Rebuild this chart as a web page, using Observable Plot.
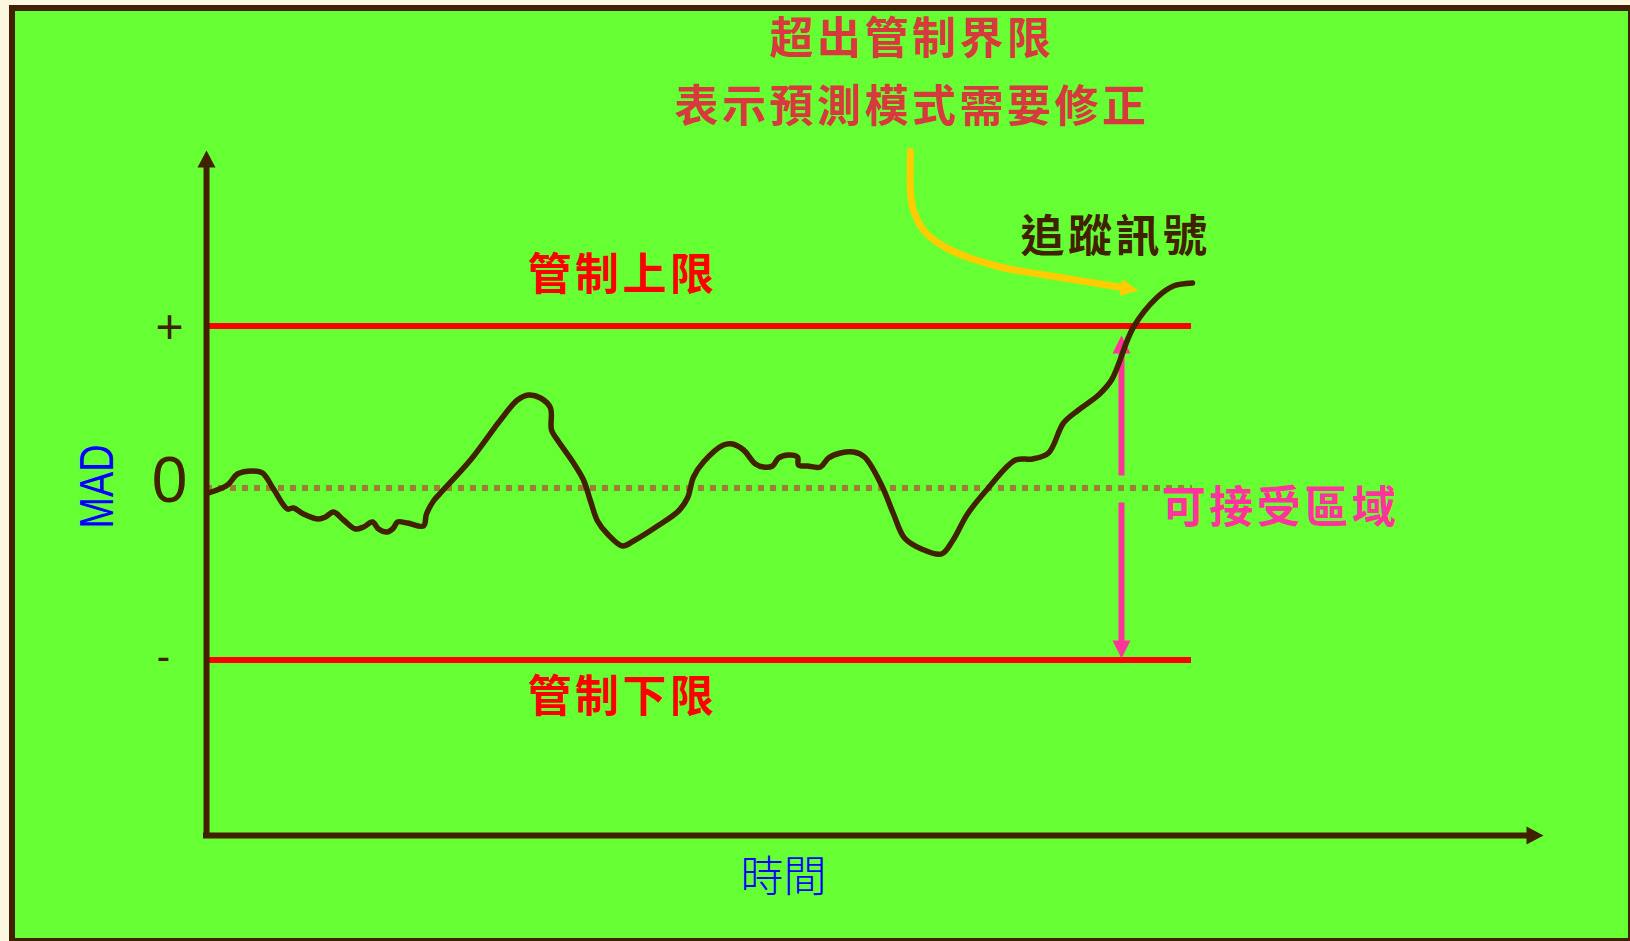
<!DOCTYPE html>
<html>
<head>
<meta charset="utf-8">
<script src="https://cdn.jsdelivr.net/npm/d3@7"></script>
<script src="https://cdn.jsdelivr.net/npm/@observablehq/plot@0.6"></script>
<style>
  html, body { margin: 0; padding: 0; width: 1630px; height: 941px; overflow: hidden; background: #fbf7e1; }
  #frame {
    position: absolute; left: 9px; top: 5px; width: 1625px; height: 939px;
    box-sizing: border-box; border: 6px solid #422100; background: #66ff33;
  }
  #chart { position: absolute; left: 0; top: 0; }
  #chart svg { display: block; }
</style>
</head>
<body>
<div id="frame"></div>
<div id="chart"></div>
<script>
// Tracking signal (MAD units) over time
const time = [0.2, 2.1, 3.1, 4.6, 5.6, 6.7, 8.1, 8.7, 9.7, 11.2, 11.9, 12.7, 13.7, 14.9, 15.7, 16.6, 17.2, 18.1, 18.7, 19.1,
  20.1, 21.7, 22.0, 22.7, 23.4, 26.4, 29.4, 31.1, 32.2, 33.4, 34.4, 34.5, 35.1, 36.7, 37.7, 38.4, 39.1, 40.1, 41.6, 42.7,
  45.1, 47.2, 48.1, 48.7, 49.7, 51.7, 52.6, 53.7, 54.9, 55.7, 56.6, 57.2, 58.2, 59.1, 59.2, 60.1, 61.4, 62.2, 63.4, 64.7,
  65.8, 67.5, 68.7, 69.8, 71.5, 73.5, 74.6, 76.1, 78.1, 80.9, 82.6, 84.2, 85.7, 87.2, 89.2, 90.5, 92.7, 95.1, 96.7, 98.6];
const signal = [-0.05, 0.03, 0.14, 0.17, 0.15, -0.01, -0.21, -0.20, -0.26, -0.31, -0.29, -0.24, -0.32, -0.41, -0.39, -0.34, -0.41, -0.44, -0.40, -0.34,
  -0.35, -0.38, -0.26, -0.13, -0.05, 0.28, 0.68, 0.88, 0.93, 0.90, 0.80, 0.58, 0.48, 0.25, 0.08, -0.13, -0.33, -0.46, -0.58, -0.53,
  -0.38, -0.23, -0.10, 0.11, 0.26, 0.43, 0.44, 0.38, 0.24, 0.21, 0.22, 0.30, 0.33, 0.31, 0.23, 0.22, 0.21, 0.30, 0.35, 0.36,
  0.31, 0.03, -0.26, -0.50, -0.61, -0.66, -0.53, -0.26, -0.01, 0.28, 0.29, 0.35, 0.65, 0.78, 0.93, 1.08, 1.61, 1.91, 2.02, 2.05];

// Control limits and the acceptable zone
const limitNames = ["管制上限", "管制下限"];
const limitValues = [1.62, -1.72];
const limitEndTime = 98.5;
const zoneTop = 1.525;      // tip of the acceptable-zone arrow (upper)
const zoneBottom = -1.705;  // tip of the acceptable-zone arrow (lower)
const zoneGap = [0.125, -0.145];
const zoneTime = 91.5;

// Axis extents and tick labels
const xMax = 133.7;
const yMin = -3.475;
const yMax = 3.375;
const tickLabels = ["+", "0", "-"];
const tickValues = [1.605, 0.065, -1.695];

// Callout curve pointing at the signal
const calloutTime = [70.4, 70.4, 70.7, 71.9, 74.5, 79.2, 85.4, 91.9];
const calloutValue = [3.365, 2.975, 2.775, 2.555, 2.375, 2.215, 2.105, 2.0];
const calloutTip = {x: 93.2, y: 1.975};

// Annotation text
const noteTitle = ["超出管制界限", "表示預測模式需要修正"];
const noteSignal = "追蹤訊號";
const noteZone = "可接受區域";
const xTitle = "時間";
const yTitle = "MAD";

const curve = time.map((t, i) => ({t, v: signal[i]}));
const callout = calloutTime.map((t, i) => ({t, v: calloutValue[i]}));

const brown = "#422100";
const pink = "#ff3399";
const cjk = "'Noto Sans CJK TC', 'Noto Sans CJK SC', sans-serif";
const narrow = "'Liberation Sans Narrow', 'Liberation Sans', Arial, sans-serif";

const chart = Plot.plot({
  width: 1630,
  height: 941,
  marginLeft: 206,
  marginRight: 87,
  marginTop: 150,
  marginBottom: 106,
  x: {domain: [0, xMax], axis: null},
  y: {domain: [yMin, yMax], axis: null},
  style: {background: "transparent", overflow: "visible"},
  marks: [
    // zero reference
    Plot.ruleY([0], {x1: 0, x2: limitEndTime + 0.1, stroke: "#9c7f36", strokeWidth: 6, strokeDasharray: "6,6"}),
    // control limits
    Plot.ruleY(limitValues, {x1: 0, x2: limitEndTime, stroke: "#ff0000", strokeWidth: 6}),
    // axes with arrow heads
    Plot.ruleX([0], {y1: yMin, y2: yMax - 0.12, stroke: brown, strokeWidth: 6, strokeLinecap: "square"}),
    Plot.ruleY([yMin], {x1: 0, x2: xMax - 1.2, stroke: brown, strokeWidth: 6, strokeLinecap: "square"}),
    Plot.vector([{x: 0, y: yMax}], {x: "x", y: "y", shape: "spike", anchor: "end", length: 17, r: 9, rotate: 0, fill: brown, stroke: "none"}),
    Plot.vector([{x: xMax, y: yMin}], {x: "x", y: "y", shape: "spike", anchor: "end", length: 17, r: 9, rotate: 90, fill: brown, stroke: "none"}),
    // acceptable zone double arrow
    Plot.link([{y1: zoneGap[0], y2: zoneTop - 0.08}, {y1: zoneGap[1], y2: zoneBottom + 0.08}],
      {x1: zoneTime, x2: zoneTime, y1: "y1", y2: "y2", stroke: pink, strokeWidth: 6}),
    Plot.vector([{y: zoneTop, r: 0}, {y: zoneBottom, r: 180}],
      {x: zoneTime, y: "y", rotate: "r", shape: "spike", anchor: "end", length: 18, r: 9, fill: pink, stroke: "none"}),
    // tracking signal
    Plot.line(curve, {x: "t", y: "v", curve: "catmull-rom", stroke: brown, strokeWidth: 5.5, strokeLinejoin: "round", strokeLinecap: "round"}),
    // callout arrow
    Plot.line(callout, {x: "t", y: "v", curve: "catmull-rom", stroke: "#ffcc00", strokeWidth: 7}),
    Plot.vector([calloutTip], {x: "x", y: "y", shape: "spike", anchor: "end", length: 18, r: 8.5, rotate: 99, fill: "#ffcc00", stroke: "none"}),
    // tick labels
    Plot.text([tickLabels[0]], {x: -3.7, y: tickValues[0], text: d => d, fontSize: 48, fontFamily: narrow, fill: brown}),
    Plot.text([tickLabels[1]], {x: -3.7, y: tickValues[1], text: d => d, fontSize: 64, fontFamily: narrow, fill: brown}),
    Plot.text([tickLabels[2]], {x: -4.3, y: tickValues[2], text: d => d, fontSize: 40, fontFamily: narrow, fill: brown}),
    // axis titles
    Plot.text([yTitle], {x: -10.85, y: 0.015, text: d => d, rotate: -90, fontSize: 48, fontFamily: narrow, fill: "#0000ff"}),
    Plot.text([xTitle], {x: 57.7, y: -3.905, text: d => d, fontSize: 43, fontWeight: 300, fontFamily: cjk, fill: "#0000ff"}),
    // annotations
    Plot.text(noteTitle, {x: 70.55, y: (d, i) => [4.485, 3.805][i], text: d => d, fontSize: 44, fontWeight: "bold", fontFamily: cjk, fill: "#d7393d"}),
    Plot.text([noteSignal], {x: 90.9, y: 2.505, text: d => d, fontSize: 44, fontWeight: "bold", fontFamily: cjk, fill: brown}),
    Plot.text(limitNames, {x: 41.6, y: (d, i) => [2.12, -2.095][i], text: d => d, fontSize: 44, fontWeight: "bold", fontFamily: cjk, fill: "#ff0000"}),
    Plot.text([noteZone], {x: 107.4, y: -0.205, text: d => d, fontSize: 44, fontWeight: "bold", fontFamily: cjk, fill: pink})
  ]
});

// widen the spacing of the bold annotation labels
const spaced = new Set([...noteTitle, noteSignal, ...limitNames, noteZone]);
d3.select(chart).selectAll("text")
  .filter(function () { return spaced.has(this.textContent); })
  .attr("letter-spacing", "3.5px");
// condensed y-axis title
d3.select(chart).selectAll("text")
  .filter(function () { return this.textContent === yTitle; })
  .attr("textLength", 84)
  .attr("lengthAdjust", "spacingAndGlyphs");

document.getElementById("chart").appendChild(chart);
</script>
</body>
</html>
